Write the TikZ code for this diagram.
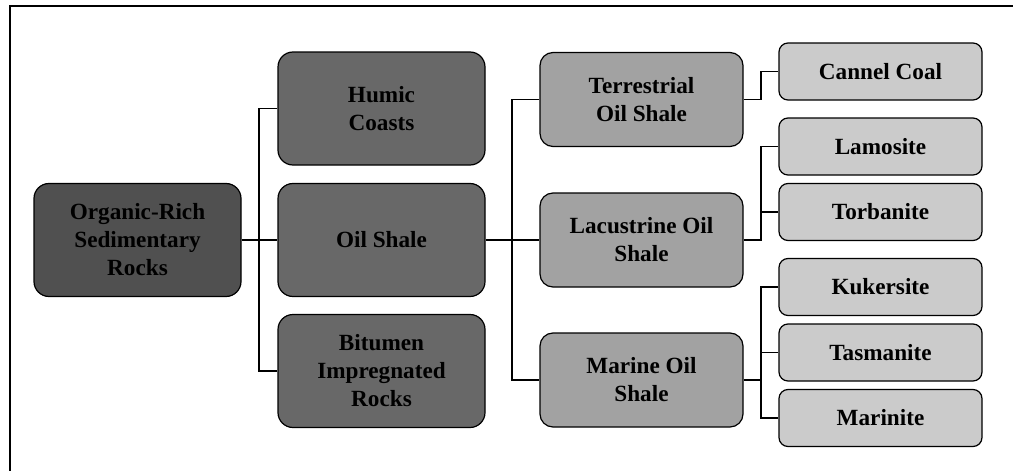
\documentclass[tikz,border=0pt]{standalone}
\usepackage{fontspec}
\setmainfont{Liberation Serif}
\definecolor{cRoot}{HTML}{505050}
\definecolor{cOne}{HTML}{686868}
\definecolor{cTwo}{HTML}{A2A2A2}
\definecolor{cThree}{HTML}{CBCBCB}
\begin{document}
\begin{tikzpicture}[x=0.5pt,y=-0.5pt,
  box/.style={draw=black,line width=0.6pt,align=center,inner sep=2pt,
    font=\fontsize{11.6}{14}\selectfont\bfseries},
  rootbox/.style={box,fill=cRoot,minimum width=103.5pt,minimum height=56.5pt,rounded corners=7.5pt},
  onebox/.style={box,fill=cOne,minimum width=103.5pt,minimum height=56.5pt,rounded corners=7.5pt},
  twobox/.style={box,fill=cTwo,minimum width=101.5pt,minimum height=47pt,rounded corners=6.5pt},
  threebox/.style={box,fill=cThree,minimum width=101.5pt,minimum height=28.5pt,rounded corners=4.5pt},
  link/.style={draw=black,line width=0.6pt},
  frame/.style={draw=black,line width=1pt}]
\useasboundingbox (0,0) rectangle (1013,471);
\coordinate (f0) at (1013,6);
\coordinate (f1) at (10,6);
\coordinate (f2) at (10,471);
\draw[frame] (f0) -- (f1) -- (f2);

\node[rootbox] (root) at (137.5,240) {Organic-Rich\\Sedimentary\\Rocks};
\node[onebox] (hum) at (381.5,108.5) {Humic\\Coasts};
\node[onebox] (osh) at (381.5,240) {Oil Shale};
\node[onebox] (bit) at (381.5,371) {Bitumen\\Impregnated\\Rocks};

\node[twobox] (ter) at (641.5,99.5) {Terrestrial\\Oil Shale};
\node[twobox] (lac) at (641.5,240) {Lacustrine Oil\\Shale};
\node[twobox] (mar) at (641.5,380) {Marine Oil\\Shale};

\node[threebox] (can) at (880.5,71.5) {Cannel Coal};
\node[threebox] (lam) at (880.5,146.5) {Lamosite};
\node[threebox] (tor) at (880.5,212) {Torbanite};
\node[threebox] (kuk) at (880.5,287) {Kukersite};
\node[threebox] (tas) at (880.5,352.5) {Tasmanite};
\node[threebox] (mrn) at (880.5,418) {Marinite};

\coordinate (b1) at (259,0);
\coordinate (b2) at (512,0);
\coordinate (b3) at (761,0);

\draw[link] (root.east) -- (osh.west);
\draw[link] (hum.west) -- (hum.west -| b1) |- (bit.west);

\draw[link] (osh.east) -- (lac.west);
\draw[link] (ter.west) -- (ter.west -| b2) |- (mar.west);

\draw[link] (ter.east) -- (ter.east -| b3) |- (can.west);
\draw[link] (lac.east) -- (lac.east -| b3) |- (lam.west);
\draw[link] (lac.east -| b3) |- (tor.west);
\draw[link] (kuk.west) -- (kuk.west -| b3) |- (mrn.west);
\draw[link] (mar.east) -- (mar.east -| b3);
\draw[link] (tas.west) -- (tas.west -| b3);
\end{tikzpicture}
\end{document}
